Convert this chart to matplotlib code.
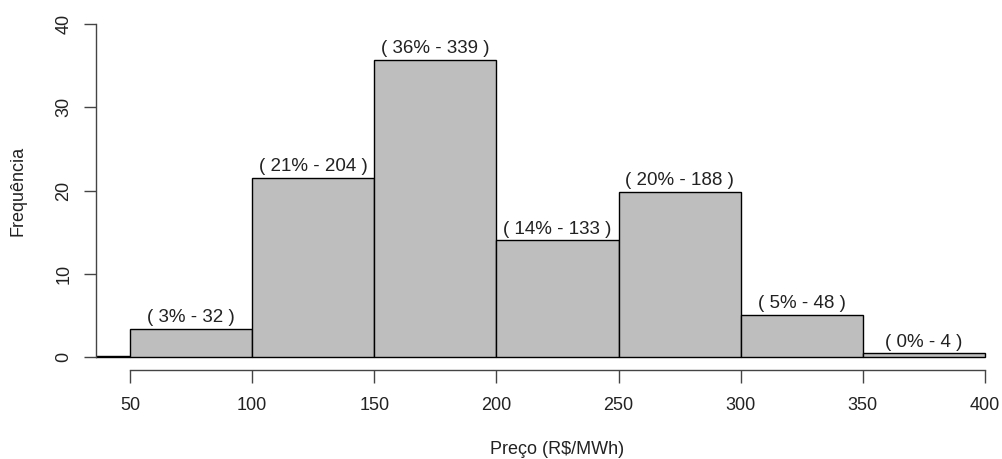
import numpy as np
import matplotlib.pyplot as plt

# histogram bins (R$/MWh) and counts per bin
bin_edges = [0, 50, 100, 150, 200, 250, 300, 350, 400]
counts = [1, 32, 204, 339, 133, 188, 48, 4]
x_ticks = [50, 100, 150, 200, 250, 300, 350, 400]
y_ticks = [0, 10, 20, 30, 40]

plt.rcParams['font.family'] = ['Liberation Sans', 'DejaVu Sans']

total = sum(counts)
pct = [c / total * 100 for c in counts]
lefts = bin_edges[:-1]
widths = np.diff(bin_edges)

fig = plt.figure(figsize=(10.02, 4.59), dpi=100)
ax = fig.add_axes([0.0956, 0.1932, 0.9216, 0.7834])

ax.bar(lefts, pct, width=widths, align='edge', color='#BEBEBE',
       edgecolor='black', linewidth=1.0)

# labels above bars (skip the clipped first bin)
for l, w, p, c in zip(lefts[1:], widths[1:], pct[1:], counts[1:]):
    ax.annotate(f"( {p:.0f}% - {c} )", xy=(l + w / 2, p), xytext=(0, 2),
                textcoords='offset points', ha='center', va='bottom',
                fontsize=13.5, color='#222222')

ax.set_xlim(36, 414)
ax.set_ylim(-1.6, 41.6)

for s in ['top', 'right']:
    ax.spines[s].set_visible(False)
ax.spines['left'].set_bounds(0, 40)
ax.spines['bottom'].set_bounds(50, 400)
for s in ['left', 'bottom']:
    ax.spines[s].set_color('#444444')
    ax.spines[s].set_linewidth(1.0)

ax.set_xticks(x_ticks)
ax.set_yticks(y_ticks)
ax.tick_params(axis='x', length=9, width=1.0, color='#444444', labelsize=13,
               pad=10, labelcolor='#222222')
ax.tick_params(axis='y', length=9, width=1.0, color='#444444', labelsize=13,
               pad=8, labelcolor='#222222', labelrotation=90)
for t in ax.get_yticklabels():
    t.set_va('center')

fig.text(0.5564, 1 - 449 / 459, 'Preço (R$/MWh)', ha='center', va='center',
         fontsize=13, color='#222222')
fig.text(18 / 1002, 1 - 190.5 / 459, 'Frequência', ha='center', va='center',
         rotation=90, fontsize=13, color='#222222')

fig.savefig('out.png', dpi=100)
